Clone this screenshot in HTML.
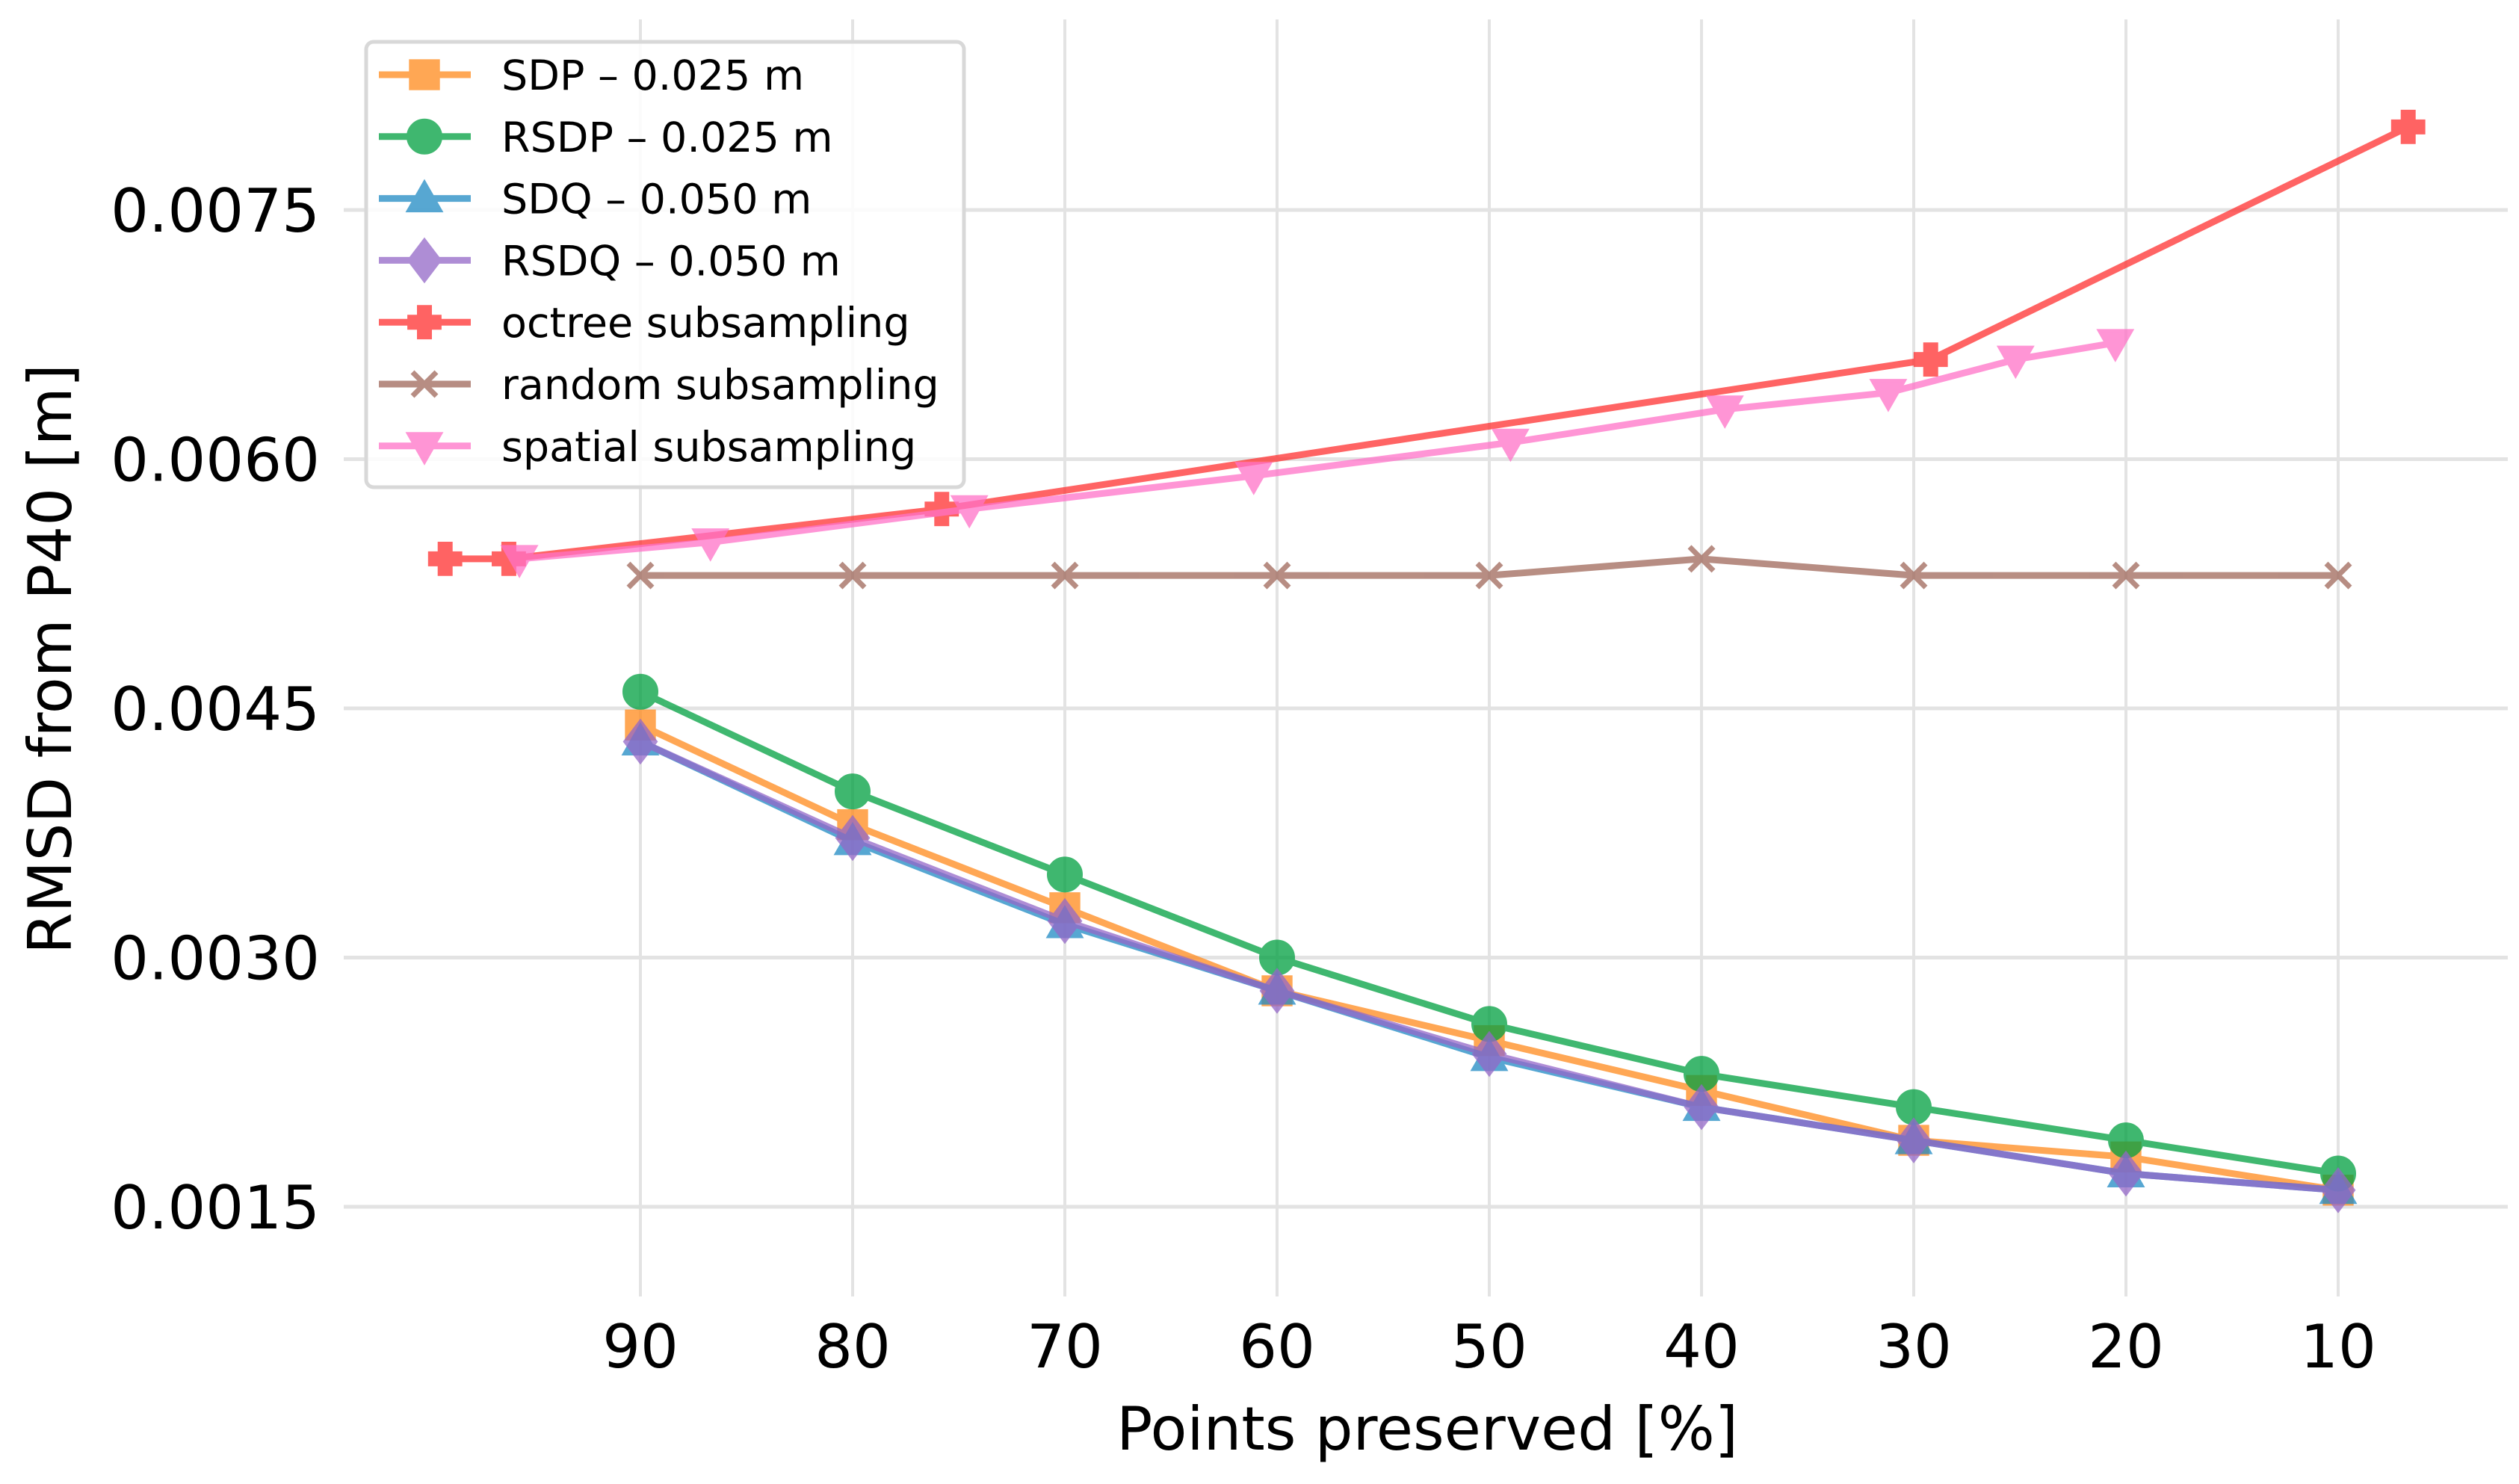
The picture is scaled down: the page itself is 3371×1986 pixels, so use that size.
<!DOCTYPE html>
<html><head><meta charset="utf-8"><style>
html,body{margin:0;padding:0;background:#fff;}
svg{display:block;font-family:"DejaVu Sans","Liberation Sans",sans-serif;}
</style></head><body>
<svg id="chart" width="3371" height="1986" viewBox="0 0 3371 1986" xmlns="http://www.w3.org/2000/svg">
<g id="grid"></g>
<g id="series"></g>
<g id="ticks"></g>
<text x="1910" y="1940" font-size="80" text-anchor="middle">Points preserved [%]</text>
<text transform="translate(95,882) rotate(-90)" font-size="80" text-anchor="middle">RMSD from P40 [m]</text>
<g id="legend"></g>
</svg>
<script>
const xTicks = [90,80,70,60,50,40,30,20,10];
const yTicks = [0.0075,0.0060,0.0045,0.0030,0.0015];
const yTickLabels = ["0.0075","0.0060","0.0045","0.0030","0.0015"];
const stdX = [90,80,70,60,50,40,30,20,10];
const sdpY = [0.0044,0.0038,0.0033,0.0028,0.0025,0.0022,0.0019,0.0018,0.0016];
const rsdpY = [0.0046,0.0040,0.0035,0.0030,0.0026,0.0023,0.0021,0.0019,0.0017];
const sdqY = [0.0043,0.0037,0.0032,0.0028,0.0024,0.0021,0.0019,0.0017,0.0016];
const rsdqY = [0.0043,0.00372,0.00322,0.0028,0.00242,0.0021,0.0019,0.0017,0.0016];
const octreeX = [99.2,96.2,75.8,29.2,6.7];
const octreeY = [0.0054,0.0054,0.0057,0.0066,0.0080];
const randomY = [0.0053,0.0053,0.0053,0.0053,0.0053,0.0054,0.0053,0.0053,0.0053];
const spatialX = [95.7,86.7,74.5,61.1,49.0,38.9,31.2,25.2,20.5];
const spatialY = [0.0054,0.0055,0.0057,0.0059,0.0061,0.0063,0.0064,0.0066,0.0067];
const legendLabels = ["SDP \u2013 0.025 m","RSDP \u2013 0.025 m","SDQ \u2013 0.050 m","RSDQ \u2013 0.050 m","octree subsampling","random subsampling","spatial subsampling"];

const NS="http://www.w3.org/2000/svg";
function X(p){return 857+(90-p)*28.4;}
function Y(v){return 281+(0.0075-v)/0.0015*333.5;}
function mk(tag,attrs,parent){const e=document.createElementNS(NS,tag);for(const k in attrs)e.setAttribute(k,attrs[k]);parent.appendChild(e);return e;}
const grid=document.getElementById('grid'),ticks=document.getElementById('ticks'),ser=document.getElementById('series'),leg=document.getElementById('legend');
xTicks.forEach(t=>{
  const l=mk('line',{x1:X(t),x2:X(t),y1:26,y2:1735,stroke:'#e3e3e3','stroke-width':4},grid);
  
  
  const tx=mk('text',{x:X(t),y:1830,'font-size':80,'text-anchor':'middle'},ticks);tx.textContent=t;
  
  
});
yTicks.forEach((t,i)=>{
  const l=mk('line',{x1:460,x2:3356,y1:Y(t),y2:Y(t),stroke:'#e3e3e3','stroke-width':5},grid);
  
  
  const tx=mk('text',{x:428,y:Y(t)+29,'font-size':80,'text-anchor':'end'},ticks);tx.textContent=yTickLabels[i];
  
  
});
function marker(type,cx,cy,color,g){
  const s=22;let e;
  if(type==='square')e=mk('rect',{x:cx-s*0.85,y:cy-s*0.85,width:s*1.7,height:s*1.7},g);
  else if(type==='circle')e=mk('circle',{cx:cx,cy:cy,r:s},g);
  else if(type==='tri')e=mk('polygon',{points:`${cx},${cy-s} ${cx-s},${cy+s*0.75} ${cx+s},${cy+s*0.75}`},g);
  else if(type==='tridown')e=mk('polygon',{points:`${cx},${cy+s} ${cx-s},${cy-s*0.75} ${cx+s},${cy-s*0.75}`},g);
  else if(type==='diamond')e=mk('polygon',{points:`${cx},${cy-s*1.25} ${cx+s*0.95},${cy} ${cx},${cy+s*1.25} ${cx-s*0.95},${cy}`},g);
  else if(type==='plus'){const w=8,h=s*0.95;e=mk('path',{d:`M${cx-w},${cy-h}h${2*w}v${h-w}h${h-w}v${2*w}h${-(h-w)}v${h-w}h${-2*w}v${-(h-w)}h${-(h-w)}v${-2*w}h${h-w}z`},g);}
  else if(type==='x'){e=mk('path',{d:`M${cx-16},${cy-16}L${cx+16},${cy+16}M${cx-16},${cy+16}L${cx+16},${cy-16}`,stroke:color,'stroke-width':7,fill:'none'},g);return e;}
  e.setAttribute('fill',color);e.setAttribute('stroke',color);e.setAttribute('stroke-width',4);
  return e;
}
function series(name,xs,ys,color,type){
  const g=mk('g',{opacity:0.75},ser);
  
  
  mk('polyline',{points:xs.map((x,i)=>X(x)+','+Y(ys[i])).join(' '),fill:'none',stroke:color,'stroke-width':9,'stroke-linejoin':'round'},g);
  xs.forEach((x,i)=>{const m=marker(type,X(x),Y(ys[i]),color,g);
    
    });
}
const cols=['#ff8a1c','#00a040','#1f8ac4','#9467c8','#ff3030','#a0685a','#ff72c8'];
const types=['square','circle','tri','diamond','plus','x','tridown'];
series('random-series',stdX,randomY,cols[5],'x');
series('octree-series',octreeX,octreeY,cols[4],'plus');
series('spatial-series',spatialX,spatialY,cols[6],'tridown');
series('sdp-series',stdX,sdpY,cols[0],'square');
series('rsdp-series',stdX,rsdpY,cols[1],'circle');
series('sdq-series',stdX,sdqY,cols[2],'tri');
series('rsdq-series',stdX,rsdqY,cols[3],'diamond');
const box=mk('rect',{x:490,y:56,width:800,height:596,rx:10,fill:'#fff','fill-opacity':0.85,stroke:'#d8d8d8','stroke-width':5},leg);


legendLabels.forEach((lab,i)=>{
  const cy=100+i*82.8;
  const g=mk('g',{},leg);
  
  
  const sg=mk('g',{opacity:0.75},g);
  mk('line',{x1:507,x2:630,y1:cy,y2:cy,stroke:cols[i],'stroke-width':9},sg);
  marker(types[i],568,cy,cols[i],sg);
  const t=mk('text',{x:671,y:cy+20,'font-size':55.5},g);t.textContent=lab;
});
</script>
</body></html>
